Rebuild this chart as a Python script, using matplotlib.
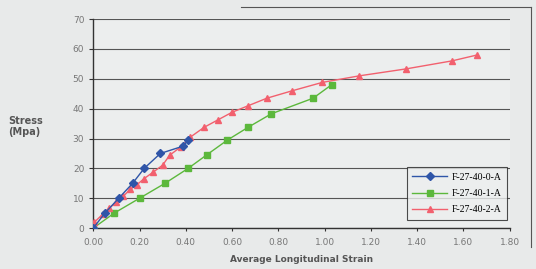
import matplotlib.pyplot as plt
from matplotlib.ticker import FormatStrFormatter

# data
strain_0 = [0.00, 0.05, 0.11, 0.17, 0.22, 0.29, 0.39, 0.41]
stress_0 = [0.0, 5.0, 10.0, 15.0, 20.0, 25.0, 27.5, 29.5]

strain_1 = [0.00, 0.09, 0.20, 0.31, 0.41, 0.49, 0.58, 0.67, 0.77, 0.95, 1.03]
stress_1 = [0.0, 5.0, 10.0, 15.0, 20.0, 24.5, 29.5, 33.8, 38.3, 43.5, 48.0]

strain_2 = [0.00, 0.005, 0.04, 0.07, 0.10, 0.13, 0.16, 0.19, 0.22, 0.26, 0.30, 0.33,
            0.38, 0.42, 0.48, 0.54, 0.60, 0.67, 0.75, 0.86, 0.99, 1.15, 1.35, 1.55, 1.66]
stress_2 = [0.0, 2.0, 4.6, 6.7, 8.8, 10.7, 13.0, 14.6, 16.6, 18.8, 21.1, 24.4,
            27.3, 30.5, 33.8, 36.3, 38.8, 41.0, 43.5, 46.0, 48.8, 51.0, 53.3, 56.0, 58.0]

labels = ['F-27-40-0-A', 'F-27-40-1-A', 'F-27-40-2-A']
colors = ['#2f55a8', '#5cb83c', '#f2606e']

fig = plt.figure(figsize=(5.36, 2.69), dpi=100, facecolor='#e8eaea')
ax = fig.add_axes([0.174, 0.152, 0.777, 0.777])
ax.set_facecolor('#eceeee')

ax.plot(strain_0, stress_0, color=colors[0], marker='D', markersize=3.8, lw=1.0, label=labels[0], zorder=4)
ax.plot(strain_1, stress_1, color=colors[1], marker='s', markersize=4.3, lw=1.0, label=labels[1], zorder=3)
ax.plot(strain_2, stress_2, color=colors[2], marker='^', markersize=5, lw=1.0, label=labels[2], zorder=3)

ax.set_xlim(0, 1.8)
ax.set_ylim(0, 70)
ax.set_xticks([i * 0.2 for i in range(10)])
ax.set_yticks(range(0, 80, 10))
ax.xaxis.set_major_formatter(FormatStrFormatter('%.2f'))
ax.yaxis.grid(True, color='#555555', lw=0.8)
ax.set_axisbelow(True)

for s in ['top', 'right']:
    ax.spines[s].set_visible(False)
for s in ['left', 'bottom']:
    ax.spines[s].set_color('#333333')
    ax.spines[s].set_linewidth(1.0)

ax.tick_params(axis='both', labelsize=6.5, labelcolor='#777777', colors='#333333', length=3, width=0.8)
ax.tick_params(axis='x', length=2, pad=5)

ax.set_xlabel('Average Longitudinal Strain', fontsize=6.5, fontweight='bold', color='#555555', labelpad=6)
fig.text(0.015, 0.53, 'Stress\n(Mpa)', fontsize=7, fontweight='bold', color='#555555', ha='left', va='center')

leg = ax.legend(loc='lower right', bbox_to_anchor=(1.005, 0.015), frameon=True, fancybox=False,
                prop={'family': 'Liberation Serif', 'size': 7}, handlelength=3.6, borderpad=0.6,
                labelspacing=0.75, handletextpad=0.4)
leg.get_frame().set_edgecolor('#222222')
leg.get_frame().set_facecolor('#eceeee')
leg.get_frame().set_linewidth(0.8)

# outer chart frame (right/top part visible in the scan)
fig.add_artist(plt.Line2D([0.45, 0.99], [0.975, 0.975], color='#555555', lw=0.8))
fig.add_artist(plt.Line2D([0.99, 0.99], [0.975, 0.08], color='#555555', lw=0.8))

fig.savefig('out.png', dpi=100, facecolor=fig.get_facecolor())
